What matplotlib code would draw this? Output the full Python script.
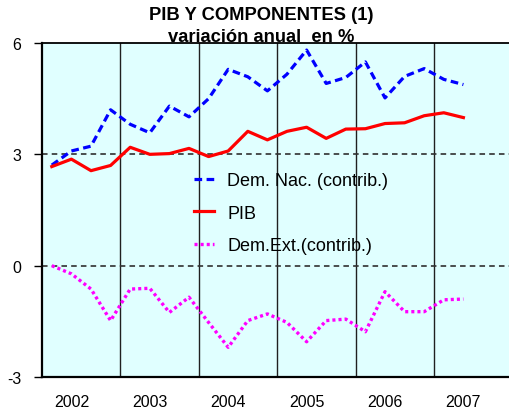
"""PIB y componentes: variación anual en %, trimestral 2002-2007."""

import matplotlib
matplotlib.use("Agg")
import matplotlib.pyplot as plt

OUT_PATH = "out.png"

# ── Datos ─────────────────────────────────────────────────────────────────────
years = ["2002", "2003", "2004", "2005", "2006", "2007"]
quarters_per_year = 4

dem_nac = [2.71, 3.09, 3.22, 4.20, 3.81, 3.58, 4.30, 4.01, 4.50, 5.29, 5.09,
           4.71, 5.16, 5.81, 4.91, 5.07, 5.49, 4.52, 5.10, 5.31, 5.02, 4.88]
pib = [2.67, 2.87, 2.56, 2.70, 3.19, 3.00, 3.02, 3.16, 2.94, 3.09, 3.62,
       3.39, 3.62, 3.73, 3.43, 3.68, 3.69, 3.83, 3.85, 4.04, 4.12, 3.99]
dem_ext = [0.00, -0.22, -0.63, -1.48, -0.63, -0.61, -1.26, -0.85, -1.53, -2.20,
           -1.48, -1.30, -1.53, -2.05, -1.48, -1.44, -1.78, -0.70, -1.24, -1.24,
           -0.92, -0.90]

y_ticks = [-3, 0, 3, 6]

BG = "#e0ffff"
FONT = "Liberation Sans"


def main():
    plt.rcParams["font.family"] = [FONT, "DejaVu Sans"]
    plt.rcParams["lines.scale_dashes"] = False

    fig = plt.figure(figsize=(5.10, 4.14), dpi=100)
    ax = fig.add_axes([42 / 510, 36 / 414, 468 / 510, 334 / 414])
    ax.set_facecolor(BG)

    x = [i + 0.5 for i in range(len(pib))]

    # líneas de separación entre años y de referencia
    for k in range(1, len(years)):
        ax.axvline(k * quarters_per_year, color="#202020", lw=1.0, zorder=1)
    for yv in (0, 3):
        ax.axhline(yv, color="#303030", lw=1.2, ls=(0, (4, 3)), zorder=1)

    ax.plot(x, dem_nac, color="#0000ff", lw=2.3, dashes=(5.5, 3.2),
            label="Dem. Nac. (contrib.)", zorder=3)
    ax.plot(x, pib, color="#ff0000", lw=2.3, label="PIB", zorder=3)
    ax.plot(x, dem_ext, color="#ff00ff", lw=2.4, dashes=(2.2, 2.2),
            label="Dem.Ext.(contrib.)", zorder=3)

    ax.set_xlim(0, 468 / 19.6)
    ax.set_ylim(-3, 6)

    # etiquetas de año en el 2º trimestre de cada año
    ax.set_xticks([k * quarters_per_year + 1.5 for k in range(len(years))])
    ax.set_xticklabels(years, fontsize=11.5)
    ax.tick_params(axis="x", length=0, pad=12)
    ax.set_yticks(y_ticks)
    ax.set_yticklabels([str(v) for v in y_ticks], fontsize=11.5)
    ax.tick_params(axis="y", length=6, width=1.0, pad=9)

    ax.spines["right"].set_visible(False)
    ax.spines["left"].set_linewidth(1.6)
    ax.spines["bottom"].set_linewidth(1.6)
    ax.spines["top"].set_linewidth(1.3)

    ax.legend(loc="upper left", bbox_to_anchor=(194 / 510, (414 - 173) / 414),
              bbox_transform=fig.transFigure, frameon=False, fontsize=13,
              borderpad=0, borderaxespad=0, handlelength=1.1,
              handletextpad=0.75, labelspacing=0.87)

    fig.text(261.5 / 510, 1 - 16 / 414, "PIB Y COMPONENTES (1)",
             ha="center", va="center", fontsize=13.2, fontweight="bold")
    fig.text(261.5 / 510, 1 - 37 / 414, "variación anual  en %",
             ha="center", va="center", fontsize=13.2, fontweight="bold")

    fig.savefig(OUT_PATH, dpi=100)
    plt.close(fig)


if __name__ == "__main__":
    main()
